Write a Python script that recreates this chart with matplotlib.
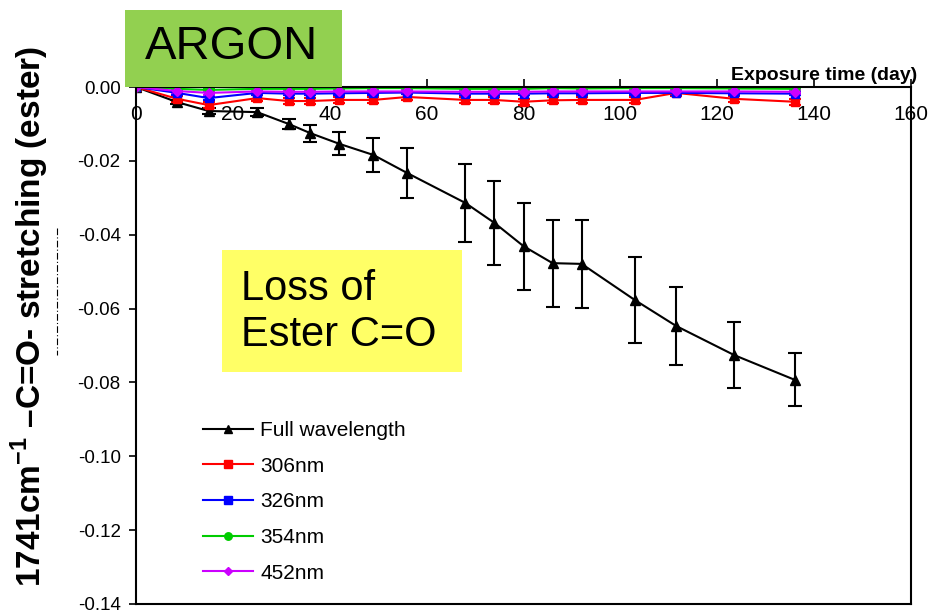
import numpy as np
import matplotlib
matplotlib.use('Agg')
import matplotlib.pyplot as plt
from matplotlib.lines import Line2D
from matplotlib.patches import Rectangle

plt.rcParams['font.family'] = ['Liberation Sans', 'DejaVu Sans']
plt.rcParams['axes.unicode_minus'] = False
plt.rcParams['mathtext.fontset'] = 'custom'
plt.rcParams['mathtext.rm'] = 'Liberation Sans'
plt.rcParams['mathtext.bf'] = 'Liberation Sans:bold'

# exposure days
days = [0, 8.5, 15, 25, 31.5, 36, 42, 49, 56, 68, 74, 80, 86, 92, 103, 111.5, 123.5, 136]

full = [0, -0.0041, -0.0065, -0.0068, -0.0100, -0.0125, -0.0154, -0.0184, -0.0233,
        -0.0314, -0.0368, -0.0431, -0.0477, -0.0479, -0.0577, -0.0647, -0.0726, -0.0793]
full_err = [0, 0.0005, 0.0008, 0.0010, 0.0014, 0.0023, 0.0031, 0.0047, 0.0068,
            0.0106, 0.0114, 0.0118, 0.0118, 0.0119, 0.0116, 0.0106, 0.0089, 0.0072]

nm306 = [0, -0.0032, -0.0049, -0.0030, -0.0038, -0.0038, -0.0035, -0.0035, -0.0027,
         -0.0035, -0.0035, -0.0040, -0.0036, -0.0035, -0.0035, -0.0016, -0.0032, -0.0040]
nm326 = [0, -0.0016, -0.0030, -0.0016, -0.0018, -0.0018, -0.0017, -0.0016, -0.0015,
         -0.0018, -0.0018, -0.0018, -0.0017, -0.0017, -0.0016, -0.0016, -0.0017, -0.0018]
nm354 = [0, -0.0005, -0.0008, -0.0005, -0.0005, -0.0005, -0.0004, -0.0003, -0.0003,
         -0.0005, -0.0005, -0.0005, -0.0003, -0.0004, -0.0003, -0.0003, -0.0004, -0.0005]
nm452 = [0, -0.0011, -0.0016, -0.0012, -0.0013, -0.0013, -0.0012, -0.0012, -0.0012,
         -0.0013, -0.0013, -0.0013, -0.0012, -0.0012, -0.0012, -0.0012, -0.0012, -0.0013]
small_err = 0.0008


def main():
    fig = plt.figure(figsize=(9.3, 6.12), dpi=100)
    ax = fig.add_axes([136 / 930, 1 - 604 / 612, 775 / 930, 517 / 612])

    series = [
        (full, full_err, 'k', '^', 7, 'Full wavelength'),
        (nm306, small_err, '#ff0000', 's', 6, '306nm'),
        (nm326, small_err * .6, '#0000ff', 's', 6, '326nm'),
        (nm354, small_err * .4, '#00cc00', 'o', 6, '354nm'),
        (nm452, small_err * .6, '#cc00ff', 'D', 5, '452nm'),
    ]
    handles = []
    for y, err, col, mk, ms, lab in series:
        ax.errorbar(days, y, yerr=err, c=col, marker=mk, ms=ms, lw=1.5,
                    capsize=5 if col == 'k' else 4, elinewidth=1.5,
                    capthick=1.5)
        handles.append(Line2D([], [], c=col, marker=mk, lw=1.5,
                              ms=ms * .9, label=lab))

    ax.set_xlim(0, 160)
    ax.set_ylim(-0.14, 0)
    ax.set_xticks(np.arange(0, 161, 20))
    ax.set_yticks(np.arange(-0.14, 0.001, 0.02))
    ax.yaxis.set_major_formatter(matplotlib.ticker.FormatStrFormatter('%.2f'))

    # x axis crosses at y=0, frame line at the bottom
    ax.spines['bottom'].set_position(('data', 0))
    ax.spines['top'].set_position(('axes', 0))
    for sp in ax.spines.values():
        sp.set_linewidth(1.5)
    ax.tick_params(axis='x', direction='in', length=6, width=1.2,
                   labelsize=15, pad=13, top=False)
    ax.tick_params(axis='y', direction='out', length=5, width=1.2,
                   labelsize=13.5, pad=6)

    fig.text(917 / 930, 1 - 75 / 612, 'Exposure time (day)', ha='right',
             va='center', fontsize=14, fontweight='bold')
    fig.text(30 / 930, 1 - 316 / 612,
             r'1741cm$^{\mathbf{-1}}$ –C=O- stretching (ester)', rotation=90,
             ha='center', va='center', fontsize=24, fontweight='bold')

    # ghost dash line left of the axis
    fig.add_artist(Line2D([57 / 930, 57 / 930], [1 - 228 / 612, 1 - 355 / 612],
                          transform=fig.transFigure, c='k', lw=0.8,
                          ls=(0, (6, 2, 1, 2))))

    # ARGON box
    fig.add_artist(Rectangle((125 / 930, 1 - 87 / 612), 217 / 930, 77 / 612,
                             transform=fig.transFigure, fc='#92d050', ec='none',
                             zorder=5))
    fig.text(232 / 930, 1 - 47 / 612, 'ARGON', ha='center', va='center',
             fontsize=34, zorder=6)

    # Loss of Ester box
    fig.add_artist(Rectangle((222 / 930, 1 - 372 / 612), 240 / 930, 122 / 612,
                             transform=fig.transFigure, fc='#ffff66', ec='none',
                             zorder=5))
    fig.text(241 / 930, 1 - 312 / 612, 'Loss of\nEster C=O', ha='left',
             va='center', fontsize=30, linespacing=1.2, zorder=6)

    ax.legend(handles=handles, loc='upper left',
              bbox_to_anchor=(203 / 930, 1 - 421 / 612),
              bbox_transform=fig.transFigure, frameon=False, fontsize=15,
              handlelength=2.4, handletextpad=0.35, labelspacing=0.8,
              borderpad=0, borderaxespad=0)

    fig.savefig('out.png', dpi=100)


if __name__ == '__main__':
    main()
